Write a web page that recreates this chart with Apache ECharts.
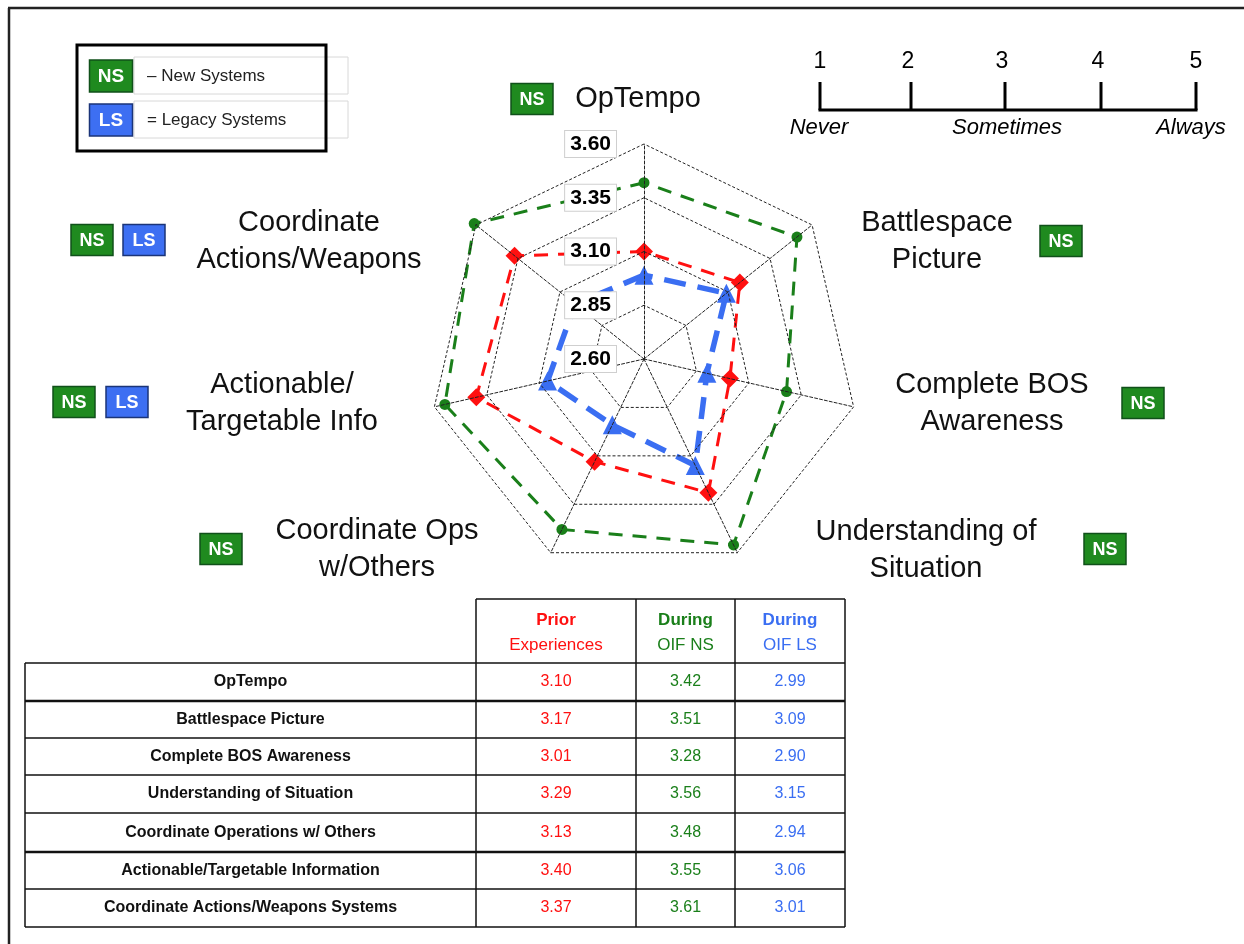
<!DOCTYPE html>
<html>
<head>
<meta charset="utf-8">
<script src="https://cdn.jsdelivr.net/npm/echarts@6/dist/echarts.min.js"></script>
<style>
html,body{margin:0;padding:0;background:#fff;}
#chart{width:1244px;height:944px;}
</style>
</head>
<body>
<div id="chart"></div>
<script>
// ---------------- DATA ----------------
const categories = ['OpTempo', 'Battlespace Picture', 'Complete BOS Awareness', 'Understanding of Situation',
  'Coordinate Operations w/ Others', 'Actionable/Targetable Information', 'Coordinate Actions/Weapons Systems'];
const axisNames = [['OpTempo'], ['Battlespace', 'Picture'], ['Complete BOS', 'Awareness'], ['Understanding of', 'Situation'],
  ['Coordinate Ops', 'w/Others'], ['Actionable/', 'Targetable Info'], ['Coordinate', 'Actions/Weapons']];
const prior = [3.10, 3.17, 3.01, 3.29, 3.13, 3.40, 3.37];
const duringNS = [3.42, 3.51, 3.28, 3.56, 3.48, 3.55, 3.61];
const duringLS = [2.99, 3.09, 2.90, 3.15, 2.94, 3.06, 3.01];
const ringTicks = [2.60, 2.85, 3.10, 3.35, 3.60];
const badges = [['NS'], ['NS'], ['NS'], ['NS'], ['NS'], ['NS', 'LS'], ['NS', 'LS']];
const legendItems = [['NS', '\u2013 New Systems'], ['LS', '= Legacy Systems']];
const scaleNumbers = ['1', '2', '3', '4', '5'];
const scaleWords = ['Never', 'Sometimes', 'Always'];
const tableHeaders = [['Prior', 'Experiences'], ['During', 'OIF NS'], ['During', 'OIF LS']];

// ---------------- LAYOUT / STYLE ----------------
const FONT = '"Liberation Sans", Arial, sans-serif';
const RED = '#ff1010', GREEN = '#1a7f1a', BLUE = '#3a6ef2';
const badgeColor = { NS: ['#1f8a1f', '#10501a'], LS: ['#3d6ff2', '#1b3478'] };
// ECharts radar runs counter-clockwise; the reference runs clockwise
const radarOrder = [0, 6, 5, 4, 3, 2, 1];
const nameCenters = [[638, 99], [937, 241], [992, 403], [926, 550], [377, 549], [282, 403], [309, 241]];
const nameLineGap = 37;
const badgePos = [[[532, 99]], [[1061, 241]], [[1143, 403]], [[1105, 549]], [[221, 549]],
  [[74, 402], [127, 402]], [[92, 240], [144, 240]]];

const chart = echarts.init(document.getElementById('chart'), null, { renderer: 'canvas' });
const graphics = [];

// frame
graphics.push({ type: 'line', shape: { x1: 8, y1: 8, x2: 1244, y2: 8 }, style: { stroke: '#222', lineWidth: 2.5 } });
graphics.push({ type: 'line', shape: { x1: 9, y1: 8, x2: 9, y2: 944 }, style: { stroke: '#222', lineWidth: 2.5 } });

function badge(label, cx, cy, w, h, fs) {
  graphics.push({ type: 'rect', shape: { x: cx - w / 2, y: cy - h / 2, width: w, height: h },
    style: { fill: badgeColor[label][0], stroke: badgeColor[label][1], lineWidth: 1.5 }, z: 10 });
  graphics.push({ type: 'text', x: cx, y: cy + 1, style: { text: label, fill: '#fff', font: 'bold ' + fs + 'px ' + FONT,
    textAlign: 'center', textVerticalAlign: 'middle' }, z: 11 });
}

// axis names + badges
axisNames.forEach(function (lines, i) {
  const c = nameCenters[i];
  const y0 = c[1] - (lines.length - 1) * nameLineGap / 2;
  lines.forEach(function (t, k) {
    graphics.push({ type: 'text', x: c[0], y: y0 + k * nameLineGap,
      style: { text: t, fill: '#111', font: '29px ' + FONT, textAlign: 'center', textVerticalAlign: 'middle' } });
  });
  badges[i].forEach(function (b, k) {
    const p = badgePos[i][k];
    badge(b, p[0], p[1], 42, 31, 18);
  });
});

// legend box
legendItems.forEach(function (it, k) {
  const y = 57 + k * 44;
  graphics.push({ type: 'rect', shape: { x: 134, y: y, width: 214, height: 37 }, style: { fill: '#fff', stroke: '#d8d8d8', lineWidth: 1 } });
  graphics.push({ type: 'text', x: 147, y: y + 19, style: { text: it[1], fill: '#222', font: '17px ' + FONT, textVerticalAlign: 'middle' } });
  badge(it[0], 111, y + 19, 43, 32, 19);
});
graphics.push({ type: 'rect', shape: { x: 77, y: 45, width: 249, height: 106 }, style: { fill: null, stroke: '#000', lineWidth: 3 }, z: 12 });

// frequency scale
const scaleX = [820, 911, 1005, 1101, 1196];
graphics.push({ type: 'line', shape: { x1: 818.5, y1: 110, x2: 1197.5, y2: 110 }, style: { stroke: '#000', lineWidth: 3 } });
scaleNumbers.forEach(function (n, k) {
  graphics.push({ type: 'line', shape: { x1: scaleX[k], y1: 82, x2: scaleX[k], y2: 110 }, style: { stroke: '#000', lineWidth: 3 } });
  graphics.push({ type: 'text', x: scaleX[k] - (k > 0 && k < 4 ? 3 : 0), y: 62,
    style: { text: n, fill: '#000', font: '23px ' + FONT, textAlign: 'center', textVerticalAlign: 'middle' } });
});
const wordX = [819, 1007, 1191];
scaleWords.forEach(function (w, k) {
  graphics.push({ type: 'text', x: wordX[k], y: 128,
    style: { text: w, fill: '#000', font: 'italic 22px ' + FONT, textAlign: 'center', textVerticalAlign: 'middle' } });
});

// table
const colX = [25, 476, 636, 735, 845];
const rowY = [599, 663, 701, 738, 775, 813, 852, 889, 927];
const colValues = [prior, duringNS, duringLS];
const colColors = [RED, GREEN, BLUE];
graphics.push({ type: 'line', shape: { x1: colX[1], y1: rowY[0], x2: colX[4], y2: rowY[0] }, style: { stroke: '#111', lineWidth: 1.5 } });
for (let r = 1; r < rowY.length; r++) {
  graphics.push({ type: 'line', shape: { x1: colX[0], y1: rowY[r], x2: colX[4], y2: rowY[r] },
    style: { stroke: '#111', lineWidth: (r === 2 || r === 6) ? 2.5 : 1.5 } });
}
graphics.push({ type: 'line', shape: { x1: colX[0], y1: rowY[1], x2: colX[0], y2: rowY[8] }, style: { stroke: '#111', lineWidth: 1.5 } });
for (let c = 1; c < colX.length; c++) {
  graphics.push({ type: 'line', shape: { x1: colX[c], y1: rowY[0], x2: colX[c], y2: rowY[8] }, style: { stroke: '#111', lineWidth: 1.5 } });
}
tableHeaders.forEach(function (h, c) {
  const cx = (colX[c + 1] + colX[c + 2]) / 2;
  h.forEach(function (t, k) {
    graphics.push({ type: 'text', x: cx, y: 620 + k * 25,
      style: { text: t, fill: colColors[c], font: (k === 0 ? 'bold ' : '') + '17px ' + FONT, textAlign: 'center', textVerticalAlign: 'middle' } });
  });
});
categories.forEach(function (cat, r) {
  const cy = (rowY[r + 1] + rowY[r + 2]) / 2;
  graphics.push({ type: 'text', x: (colX[0] + colX[1]) / 2, y: cy,
    style: { text: cat, fill: '#111', font: 'bold 16px ' + FONT, textAlign: 'center', textVerticalAlign: 'middle' } });
  colValues.forEach(function (vals, c) {
    graphics.push({ type: 'text', x: (colX[c + 1] + colX[c + 2]) / 2, y: cy,
      style: { text: vals[r].toFixed(2), fill: colColors[c], font: '16px ' + FONT, textAlign: 'center', textVerticalAlign: 'middle' } });
  });
});

// radar
const rMin = ringTicks[0], rMax = ringTicks[ringTicks.length - 1];
const indicators = radarOrder.map(function (idx, k) {
  return { name: categories[idx], min: rMin, max: rMax, axisLabel: { show: k === 0 } };
});
function reorder(arr) { return radarOrder.map(function (i) { return arr[i]; }); }

const option = {
  backgroundColor: '#fff',
  animation: false,
  radar: {
    center: [644, 359],
    radius: 215,
    startAngle: 90,
    shape: 'polygon',
    splitNumber: ringTicks.length - 1,
    z: 3,
    indicator: indicators,
    axisName: { show: false },
    axisLine: { lineStyle: { color: '#222', width: 1, type: [3, 2] } },
    splitLine: { lineStyle: { color: '#222', width: 1, type: [3, 2] } },
    splitArea: { show: false },
    axisTick: { show: false },
    axisLabel: {
      show: false,
      formatter: function (v) { return Number(v).toFixed(2); },
      color: '#000', fontWeight: 'bold', fontSize: 21, fontFamily: FONT,
      backgroundColor: '#fff', borderColor: '#cfcfcf', borderWidth: 1, padding: [3, 5, 2, 5],
      margin: 28
    }
  },
  series: [
    { type: 'radar', z: 2, symbol: 'circle', symbolSize: 11,
      lineStyle: { color: GREEN, width: 3, type: [14, 10] }, itemStyle: { color: GREEN },
      data: [{ value: reorder(duringNS), name: 'During OIF NS' }] },
    { type: 'radar', z: 2, symbol: 'diamond', symbolSize: 18,
      lineStyle: { color: RED, width: 3, type: [14, 10] }, itemStyle: { color: RED },
      data: [{ value: reorder(prior), name: 'Prior Experiences' }] },
    { type: 'radar', z: 2, symbol: 'triangle', symbolSize: 19,
      lineStyle: { color: BLUE, width: 5.5, type: [22, 12] }, itemStyle: { color: BLUE },
      data: [{ value: reorder(duringLS), name: 'During OIF LS' }] }
  ],
  graphic: { elements: graphics }
};
chart.setOption(option);
</script>
</body>
</html>
